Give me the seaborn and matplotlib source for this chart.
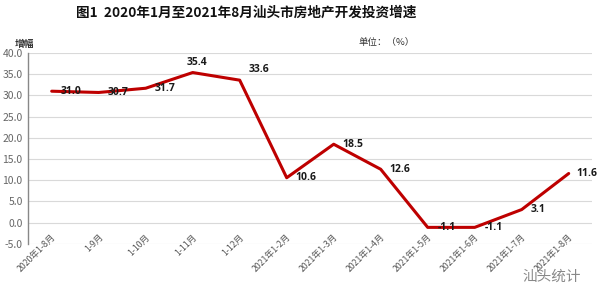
import pandas as pd
import seaborn as sns
import matplotlib.pyplot as plt
from matplotlib.transforms import ScaledTranslation

months = ["2020年1-8月", "1-9月", "1-10月", "1-11月", "1-12月", "2021年1-2月",
          "2021年1-3月", "2021年1-4月", "2021年1-5月", "2021年1-6月", "2021年1-7月", "2021年1-8月"]
growth = [31.0, 30.7, 31.7, 35.4, 33.6, 10.6, 18.5, 12.6, -1.1, -1.1, 3.1, 11.6]
y_ticks = [-5.0, 0.0, 5.0, 10.0, 15.0, 20.0, 25.0, 30.0, 35.0, 40.0]

sns.set_theme(style="white")
plt.rcParams["font.family"] = ["Noto Sans CJK SC", "DejaVu Sans"]

df = pd.DataFrame({"month": months, "growth": growth})
df["pos"] = range(len(df))

fig = plt.figure(figsize=(6, 3.03), dpi=100)
ax = fig.add_axes([0.047, 0.195, 0.94, 0.63])

sns.lineplot(data=df, x="pos", y="growth", color="#BE0000", linewidth=2.2, ax=ax)

# data label offsets in points (excel "right" placement, two moved up)
offsets = [(14, 0), (14, 0), (14, 0), (3, 7), (14, 8), (14, 0),
           (14, 0), (14, 0), (14, 0), (14, 0), (12, 0), (13, 0)]
for i, (v, off) in enumerate(zip(growth, offsets)):
    ax.annotate(f"{v:.1f}", (i, v), xytext=off, textcoords="offset points",
                ha="center", va="center", fontsize=7.5, fontweight="bold",
                color="#1a1a1a", family="Open Sans")

ax.set_xlim(-0.5, len(months) - 0.5)
ax.set_ylim(-5, 40)
ax.set_yticks(y_ticks)
ax.set_yticklabels([f"{t:.1f}" for t in y_ticks], fontsize=7.5, color="#666666")
ax.set_xticks(range(len(months)))
ax.set_xticklabels(months, rotation=45, ha="right", va="center",
                   rotation_mode="anchor", fontsize=6.3, color="#555555")
ax.tick_params(axis="x", length=0, pad=-6)
ax.tick_params(axis="y", length=0, pad=4)
shift = ScaledTranslation(2 / 72, 0, fig.dpi_scale_trans)
for lab in ax.get_xticklabels():
    lab.set_transform(lab.get_transform() + shift)
ax.set_xlabel("")
ax.set_ylabel("")
ax.yaxis.grid(True, color="#D9D9D9", linewidth=0.8)
for s in ["top", "right", "bottom"]:
    ax.spines[s].set_visible(False)
ax.spines["left"].set_color("#888888")
ax.spines["left"].set_linewidth(1.0)

fig.text(0.41, 0.957, "图1  2020年1月至2021年8月汕头市房地产开发投资增速",
         ha="center", va="center", fontsize=9.8, fontweight="bold", color="#111111")
fig.text(0.025, 0.855, "增幅", ha="left", va="center", fontsize=7,
         fontweight="bold", color="#333333")
fig.text(0.597, 0.861, "单位：（%）", ha="left", va="center", fontsize=6.8, color="#333333")
fig.text(0.87, 0.086, "汕头统计", ha="left", va="center", fontsize=10.5,
         color="#888888")

fig.savefig("out.png", dpi=100)
